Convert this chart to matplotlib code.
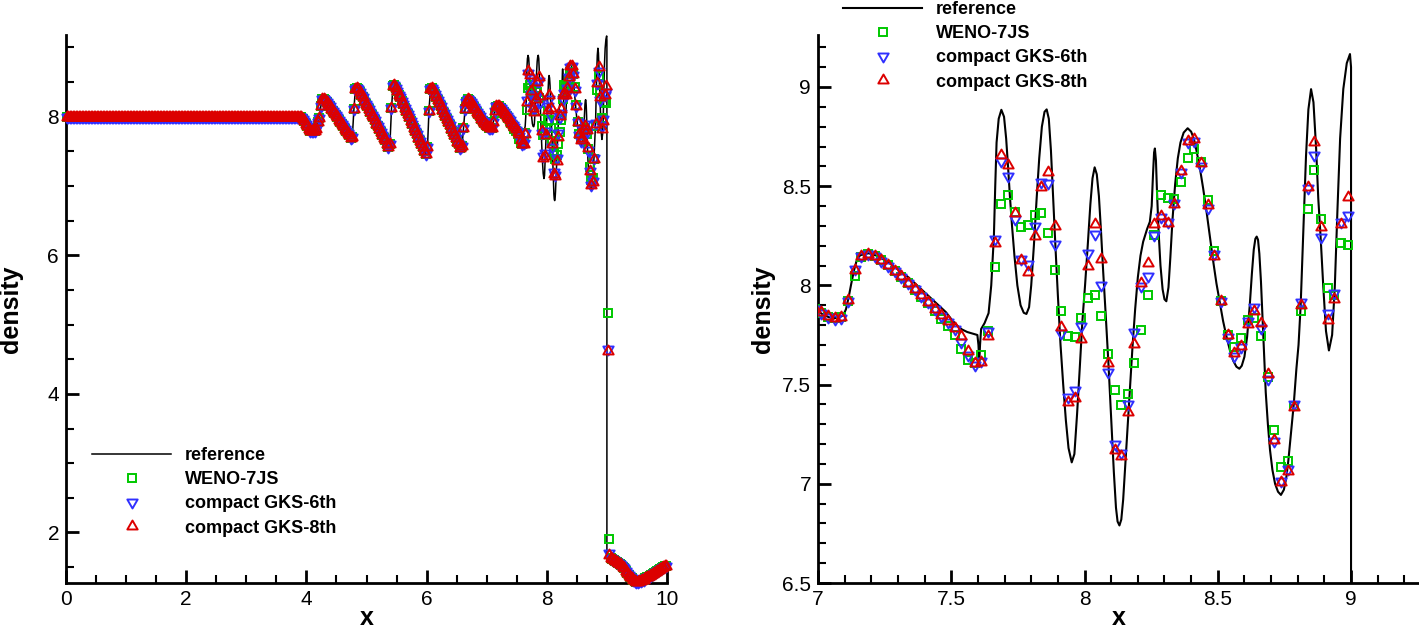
import numpy as np
import matplotlib
matplotlib.use("Agg")
import matplotlib.pyplot as plt
from matplotlib.path import Path
from matplotlib.ticker import MultipleLocator, FormatStrFormatter

plt.rcParams['font.family'] = ['Liberation Sans', 'DejaVu Sans']

# ---------------- data ----------------
# uniform mesh of 400 cells on [0, 10]
n_cells = 400
dx = 0.025
x_cells = 0.5 * dx + dx * np.arange(n_cells)

# cells 0..155 (x < 3.9): undisturbed post-shock state, identical for all schemes
rho_flat = [
    8.0, 8.0, 8.0, 8.0, 8.0, 8.0, 8.0, 8.0, 8.0, 8.0, 8.0, 8.0, 8.0,
    8.0, 8.0, 8.0, 8.0, 8.0, 8.0, 8.0, 8.0, 8.0, 8.0, 8.0, 8.0, 8.0,
    8.0, 8.0, 8.0, 8.0, 8.0, 8.0, 8.0, 8.0, 8.0, 8.0, 8.0, 8.0, 8.0,
    8.0, 8.0, 8.0, 8.0, 8.0, 8.0, 8.0, 8.0, 8.0, 8.0, 8.0, 8.0, 8.0,
    8.0, 8.0, 8.0, 8.0, 8.0, 8.0, 8.0, 8.0, 8.0, 8.0, 8.0, 8.0, 8.0,
    8.0, 8.0, 8.0, 8.0, 8.0, 8.0, 8.0, 8.0, 8.0, 8.0, 8.0, 8.0, 8.0,
    8.0, 8.0, 8.0, 8.0, 8.0, 8.0, 8.0, 8.0, 8.0, 8.0, 8.0, 8.0, 8.0,
    8.0, 8.0, 8.0, 8.0, 8.0, 8.0, 8.0, 8.0, 8.0, 8.0, 8.0, 8.0, 8.0,
    8.0, 8.0, 8.0, 8.0, 8.0, 8.0, 8.0, 8.0, 8.0, 8.0, 8.0, 8.0, 8.0,
    8.0, 8.0, 8.0, 8.0, 8.0, 8.0, 8.0, 8.0, 8.0, 8.0, 8.0, 8.0, 8.0,
    8.0, 8.0, 8.0, 8.0, 8.0, 8.0, 8.0, 8.0, 8.0, 8.0, 8.0, 8.0, 8.0,
    8.0, 8.0, 8.0, 8.0, 8.0, 8.0, 8.0, 8.0, 8.0, 8.0, 8.0, 8.0, 8.0,
]

# cells 156..279 (3.9 < x < 7.0): sawtooth waves, all schemes coincide
rho_waves = [
    7.99, 7.97, 7.94, 7.90, 7.86, 7.83, 7.80, 7.79, 7.79, 7.80, 7.83, 7.92, 7.98,
    8.15, 8.25, 8.26, 8.24,
    8.21, 8.18, 8.15, 8.11, 8.08, 8.05, 8.02, 7.99, 7.95, 7.92, 7.89, 7.86, 7.83,
    7.79, 7.76, 7.73, 7.70,
    7.71, 8.11, 8.40, 8.42, 8.40,
    8.36, 8.32, 8.28, 8.23, 8.19, 8.15, 8.11, 8.07, 8.03, 7.99, 7.95, 7.90, 7.86,
    7.82, 7.78, 7.74, 7.70, 7.66, 7.61, 7.57,
    7.60, 8.12, 8.45, 8.46, 8.42,
    8.37, 8.32, 8.28, 8.23, 8.18, 8.13, 8.08, 8.04, 7.99, 7.94, 7.89, 7.84, 7.80,
    7.75, 7.70, 7.65, 7.60, 7.56, 7.51, 7.46,
    7.56, 8.09, 8.40, 8.41, 8.38,
    8.33, 8.29, 8.24, 8.20, 8.15, 8.10, 8.06, 8.01, 7.97, 7.92, 7.88, 7.83, 7.78,
    7.74, 7.69, 7.64, 7.60, 7.55,
    7.58, 7.84, 8.11, 8.22, 8.25, 8.24,
    8.21, 8.18, 8.145, 8.11, 8.075, 8.04, 8.005, 7.97, 7.935, 7.905, 7.88,
]

# cells 280..359 (7.0 < x < 9.0): scheme-dependent
weno_7_9 = [
    7.862, 7.843, 7.834, 7.840, 7.922, 8.048, 8.145, 8.158, 8.148, 8.126,
    8.101, 8.074, 8.043, 8.011, 7.978, 7.944, 7.909, 7.870, 7.830, 7.795,
    7.748, 7.680, 7.625, 7.610, 7.648, 7.772, 8.092, 8.412, 8.458, 8.370,
    8.295, 8.305, 8.356, 8.364, 8.265, 8.078, 7.870, 7.743, 7.740, 7.835,
    7.938, 7.950, 7.844, 7.652, 7.472, 7.395, 7.453, 7.609, 7.775, 7.952,
    8.254, 8.457, 8.442, 8.434, 8.520, 8.642, 8.688, 8.624, 8.430, 8.175,
    7.921, 7.748, 7.691, 7.737, 7.826, 7.837, 7.745, 7.540, 7.270, 7.086,
    7.115, 7.390, 7.869, 8.386, 8.584, 8.337, 7.987, 7.950, 8.213, 8.203,
]
gks6_7_9 = [
    7.860, 7.842, 7.832, 7.837, 7.922, 8.085, 8.148, 8.156, 8.146, 8.124,
    8.100, 8.073, 8.043, 8.012, 7.980, 7.948, 7.914, 7.880, 7.846, 7.814,
    7.780, 7.716, 7.650, 7.600, 7.618, 7.770, 8.235, 8.628, 8.553, 8.333,
    8.131, 8.108, 8.301, 8.521, 8.517, 8.210, 7.762, 7.438, 7.475, 7.797,
    8.161, 8.259, 8.004, 7.565, 7.202, 7.156, 7.403, 7.764, 7.995, 8.047,
    8.254, 8.343, 8.321, 8.417, 8.573, 8.724, 8.726, 8.602, 8.388, 8.158,
    7.921, 7.740, 7.644, 7.690, 7.822, 7.889, 7.784, 7.527, 7.217, 7.014,
    7.073, 7.403, 7.914, 8.490, 8.658, 8.242, 7.860, 7.964, 8.317, 8.353,
]
gks8_7_9 = [
    7.865, 7.845, 7.835, 7.840, 7.925, 8.080, 8.150, 8.158, 8.148, 8.126,
    8.102, 8.075, 8.045, 8.014, 7.982, 7.950, 7.916, 7.882, 7.849, 7.818,
    7.786, 7.745, 7.668, 7.607, 7.612, 7.745, 8.215, 8.657, 8.609, 8.365,
    8.128, 8.070, 8.249, 8.497, 8.571, 8.299, 7.790, 7.411, 7.433, 7.732,
    8.097, 8.310, 8.132, 7.611, 7.171, 7.138, 7.364, 7.706, 8.012, 8.115,
    8.309, 8.348, 8.313, 8.411, 8.577, 8.727, 8.739, 8.619, 8.405, 8.150,
    7.921, 7.748, 7.658, 7.695, 7.805, 7.873, 7.809, 7.553, 7.219, 7.010,
    7.065, 7.388, 7.900, 8.494, 8.721, 8.292, 7.828, 7.932, 8.311, 8.446,
]

# cells 360..361: the two cells across the shock
weno_shock = [5.17, 1.90]
gks6_shock = [4.65, 1.71]
gks8_shock = [4.62, 1.68]

# cells 362..399 (x > 9.05): pre-shock state, all schemes coincide
rho_pre = [
    1.63, 1.61, 1.60, 1.59, 1.58, 1.565, 1.55, 1.53, 1.505, 1.48, 1.45, 1.42,
    1.39, 1.36, 1.335, 1.315, 1.30, 1.29, 1.29, 1.295, 1.30, 1.31, 1.32, 1.335,
    1.35, 1.36, 1.375, 1.39, 1.40, 1.415, 1.43, 1.44, 1.455, 1.47, 1.48, 1.495,
    1.51, 1.52,
]

# reference solution (fine mesh)
ref_x = [
    0.0, 3.85, 3.9, 3.95, 4.0, 4.05, 4.1, 4.15, 4.18, 4.21, 4.24, 4.27, 4.3,
    4.74, 4.765, 4.79, 4.815, 4.84, 4.865,
    5.365, 5.39, 5.415, 5.44, 5.465, 5.49,
    5.99, 6.015, 6.04, 6.065, 6.09, 6.115,
    6.565, 6.59, 6.615, 6.64, 6.665, 6.69, 6.715,
    6.99, 7.0, 7.02, 7.04, 7.06, 7.08, 7.095, 7.105, 7.115, 7.125, 7.135, 7.145,
    7.158, 7.19, 7.22, 7.26, 7.30, 7.34, 7.38, 7.42, 7.46, 7.48, 7.50, 7.52,
    7.54, 7.56, 7.58, 7.598, 7.602, 7.605, 7.608, 7.612, 7.625, 7.64, 7.65,
    7.66, 7.665, 7.67, 7.678, 7.688, 7.698, 7.706, 7.713, 7.72, 7.728, 7.737,
    7.748, 7.76, 7.772, 7.782, 7.792, 7.80, 7.81, 7.82, 7.83, 7.84, 7.85,
    7.858, 7.866, 7.874, 7.882, 7.89, 7.90, 7.91, 7.92, 7.93, 7.94, 7.952,
    7.962, 7.972, 7.982, 7.992, 8.002, 8.012, 8.022, 8.03, 8.038, 8.046,
    8.054, 8.062, 8.07, 8.08, 8.09, 8.10, 8.11, 8.118, 8.124, 8.131, 8.138,
    8.145, 8.152, 8.16, 8.17, 8.18, 8.19, 8.20, 8.21, 8.22, 8.235, 8.245,
    8.252, 8.257, 8.261, 8.264, 8.268, 8.272, 8.278, 8.285, 8.293, 8.30,
    8.307, 8.315, 8.322, 8.33, 8.34, 8.35, 8.36, 8.372, 8.387, 8.40, 8.41,
    8.42, 8.433, 8.445, 8.458, 8.47, 8.483, 8.495, 8.508, 8.52, 8.533, 8.546,
    8.558, 8.57, 8.581, 8.59, 8.60, 8.61, 8.62, 8.628, 8.635, 8.641, 8.646,
    8.651, 8.656, 8.662, 8.668, 8.674, 8.68, 8.688, 8.696, 8.705, 8.715,
    8.726, 8.737, 8.748, 8.757, 8.765, 8.775, 8.785, 8.795, 8.803, 8.811,
    8.821, 8.831, 8.84, 8.85, 8.859, 8.869, 8.877, 8.886, 8.896, 8.906,
    8.917, 8.929, 8.939, 8.949, 8.959, 8.971, 8.984, 8.996, 9.0, 9.0,
    9.05, 9.1, 9.15, 9.2, 9.25, 9.3, 9.35, 9.4, 9.45, 9.5, 9.55, 9.6, 9.7,
    9.8, 9.9, 10.0,
]
ref_y = [
    8.0, 8.0, 7.99, 7.955, 7.89, 7.82, 7.79, 7.80, 7.86, 7.97, 8.15, 8.255, 8.25,
    7.70, 7.72, 8.10, 8.40, 8.42, 8.40,
    7.57, 7.61, 8.10, 8.45, 8.46, 8.42,
    7.46, 7.56, 8.10, 8.40, 8.41, 8.38,
    7.55, 7.58, 7.85, 8.11, 8.22, 8.25, 8.24,
    7.88, 7.87, 7.852, 7.84, 7.835, 7.838, 7.85, 7.88, 7.94, 8.01, 8.075, 8.125,
    8.152, 8.162, 8.15, 8.12, 8.08, 8.04, 7.99, 7.94, 7.89, 7.865, 7.83, 7.80,
    7.778, 7.765, 7.757, 7.75, 7.70, 7.615, 7.70, 7.78, 7.81, 7.86, 8.0,
    8.25, 8.5, 8.72, 8.84, 8.885, 8.85, 8.74, 8.60, 8.45, 8.30, 8.15,
    8.0, 7.90, 7.862, 7.856, 7.89, 8.0, 8.2, 8.43, 8.64, 8.80, 8.875,
    8.887, 8.84, 8.68, 8.45, 8.22, 7.95, 7.70, 7.50, 7.32, 7.18, 7.108,
    7.15, 7.35, 7.58, 7.82, 8.0, 8.2, 8.41, 8.54, 8.595, 8.56,
    8.45, 8.27, 8.07, 7.84, 7.60, 7.33, 7.06, 6.88, 6.81, 6.79, 6.82,
    6.92, 7.07, 7.25, 7.47, 7.69, 7.88, 8.04, 8.15, 8.22, 8.285, 8.32,
    8.40, 8.56, 8.67, 8.69, 8.63, 8.47, 8.27, 8.10, 7.98, 7.93,
    7.92, 7.99, 8.14, 8.33, 8.51, 8.64, 8.72, 8.77, 8.792, 8.775, 8.74,
    8.68, 8.59, 8.49, 8.37, 8.25, 8.12, 8.01, 7.91, 7.82, 7.74, 7.67,
    7.62, 7.59, 7.58, 7.595, 7.64, 7.74, 7.90, 8.06, 8.18, 8.235, 8.246,
    8.23, 8.16, 8.02, 7.83, 7.63, 7.46, 7.30, 7.17, 7.07, 7.00,
    6.96, 6.944, 6.97, 7.03, 7.12, 7.26, 7.40, 7.58, 7.70, 7.90,
    8.27, 8.65, 8.887, 8.989, 8.923, 8.69, 8.44, 8.24, 7.99, 7.77,
    7.672, 7.75, 7.99, 8.38, 8.74, 8.99, 9.12, 9.166, 9.10, 1.65,
    1.62, 1.60, 1.585, 1.56, 1.52, 1.465, 1.405, 1.345, 1.305, 1.288, 1.297,
    1.315, 1.37, 1.425, 1.475, 1.525,
]

labels = ['reference', 'WENO-7JS', 'compact GKS-6th', 'compact GKS-8th']

# ---------------- assemble series ----------------
rho_weno = np.concatenate([rho_flat, rho_waves, weno_7_9, weno_shock, rho_pre])
rho_gks6 = np.concatenate([rho_flat, rho_waves, gks6_7_9, gks6_shock, rho_pre])
rho_gks8 = np.concatenate([rho_flat, rho_waves, gks8_7_9, gks8_shock, rho_pre])

# ---------------- styles ----------------
c_green = '#00c800'
c_blue = '#3030ff'
c_red = '#dc0000'

# triangles centred on their centroid (as Tecplot draws them)
tri_up = Path([(0.0, 2.0 / 3.0), (-0.577, -1.0 / 3.0), (0.577, -1.0 / 3.0), (0.0, 2.0 / 3.0)],
              [Path.MOVETO, Path.LINETO, Path.LINETO, Path.CLOSEPOLY])
tri_dn = Path([(0.0, -2.0 / 3.0), (-0.577, 1.0 / 3.0), (0.577, 1.0 / 3.0), (0.0, -2.0 / 3.0)],
              [Path.MOVETO, Path.LINETO, Path.LINETO, Path.CLOSEPOLY])

sq_kw = dict(ls='none', marker='s', ms=5.6, mfc='none', mec=c_green, mew=1.4)
dn_kw = dict(ls='none', marker=tri_dn, ms=8.6, mfc='none', mec=c_blue, mew=1.4)
up_kw = dict(ls='none', marker=tri_up, ms=8.6, mfc='none', mec=c_red, mew=1.4)

W, H = 1419, 629
fig = plt.figure(figsize=(W / 100, H / 100), dpi=100)

ax1 = fig.add_axes([66 / W, 46 / H, 601 / W, 548 / H])
ax2 = fig.add_axes([818 / W, 46 / H, 601 / W, 548 / H])


def style_axis(ax):
    for side in ('top', 'right'):
        ax.spines[side].set_visible(False)
    for side in ('left', 'bottom'):
        ax.spines[side].set_linewidth(2.0)
    ax.tick_params(which='major', direction='in', length=9.5, width=2.0,
                   labelsize=15, pad=5, top=False, right=False)
    ax.tick_params(which='minor', direction='in', length=5.5, width=1.5,
                   top=False, right=False)
    ax.xaxis.set_major_formatter(FormatStrFormatter('%g'))
    ax.yaxis.set_major_formatter(FormatStrFormatter('%g'))
    ax.set_xlabel('x', fontsize=18, fontweight='bold')
    ax.set_ylabel('density', fontsize=18, fontweight='bold')
    ax.xaxis.label.set_va('baseline')
    ax.xaxis.set_label_coords(0.5, -0.0765)
    ax.yaxis.label.set_va('center')
    ax.yaxis.set_label_coords(-0.0915, 0.5)


# ---- left: full domain ----
h_ref, = ax1.plot(ref_x, ref_y, color='black', lw=1.1, zorder=2)
h_w, = ax1.plot(x_cells, rho_weno, zorder=3, clip_on=False, **sq_kw)
h_6, = ax1.plot(x_cells, rho_gks6, zorder=4, clip_on=False, **dn_kw)
h_8, = ax1.plot(x_cells, rho_gks8, zorder=5, clip_on=False, **up_kw)
ax1.set_xlim(0, 10)
ax1.set_ylim(1.27, 9.18)
ax1.xaxis.set_major_locator(MultipleLocator(2))
ax1.xaxis.set_minor_locator(MultipleLocator(0.5))
ax1.yaxis.set_major_locator(MultipleLocator(2))
ax1.yaxis.set_minor_locator(MultipleLocator(0.5))
style_axis(ax1)

leg_kw = dict(loc='upper left', frameon=False, prop={'weight': 'bold', 'size': 13},
              handlelength=4.4, handletextpad=0.75, labelspacing=0.40,
              borderpad=0.0, borderaxespad=0.0, numpoints=1,
              bbox_transform=fig.transFigure)
ax1.legend([h_ref, h_w, h_6, h_8], labels, bbox_to_anchor=(92 / W, 1 - 447 / H), **leg_kw)

# ---- right: zoom 7..9 ----
r_ref, = ax2.plot(ref_x, ref_y, color='black', lw=1.5, zorder=2)
r_w, = ax2.plot(x_cells, rho_weno, zorder=3, **sq_kw)
r_6, = ax2.plot(x_cells, rho_gks6, zorder=4, **dn_kw)
r_8, = ax2.plot(x_cells, rho_gks8, zorder=5, **up_kw)
ax2.set_xlim(7, 9.255)
ax2.set_ylim(6.5, 9.262)
ax2.xaxis.set_major_locator(MultipleLocator(0.5))
ax2.xaxis.set_minor_locator(MultipleLocator(0.1))
ax2.yaxis.set_major_locator(MultipleLocator(0.5))
ax2.yaxis.set_minor_locator(MultipleLocator(0.1))
style_axis(ax2)
ax2.legend([r_ref, r_w, r_6, r_8], labels, bbox_to_anchor=(843 / W, 1 - 1 / H), **leg_kw)

fig.savefig('out.png', dpi=100)
